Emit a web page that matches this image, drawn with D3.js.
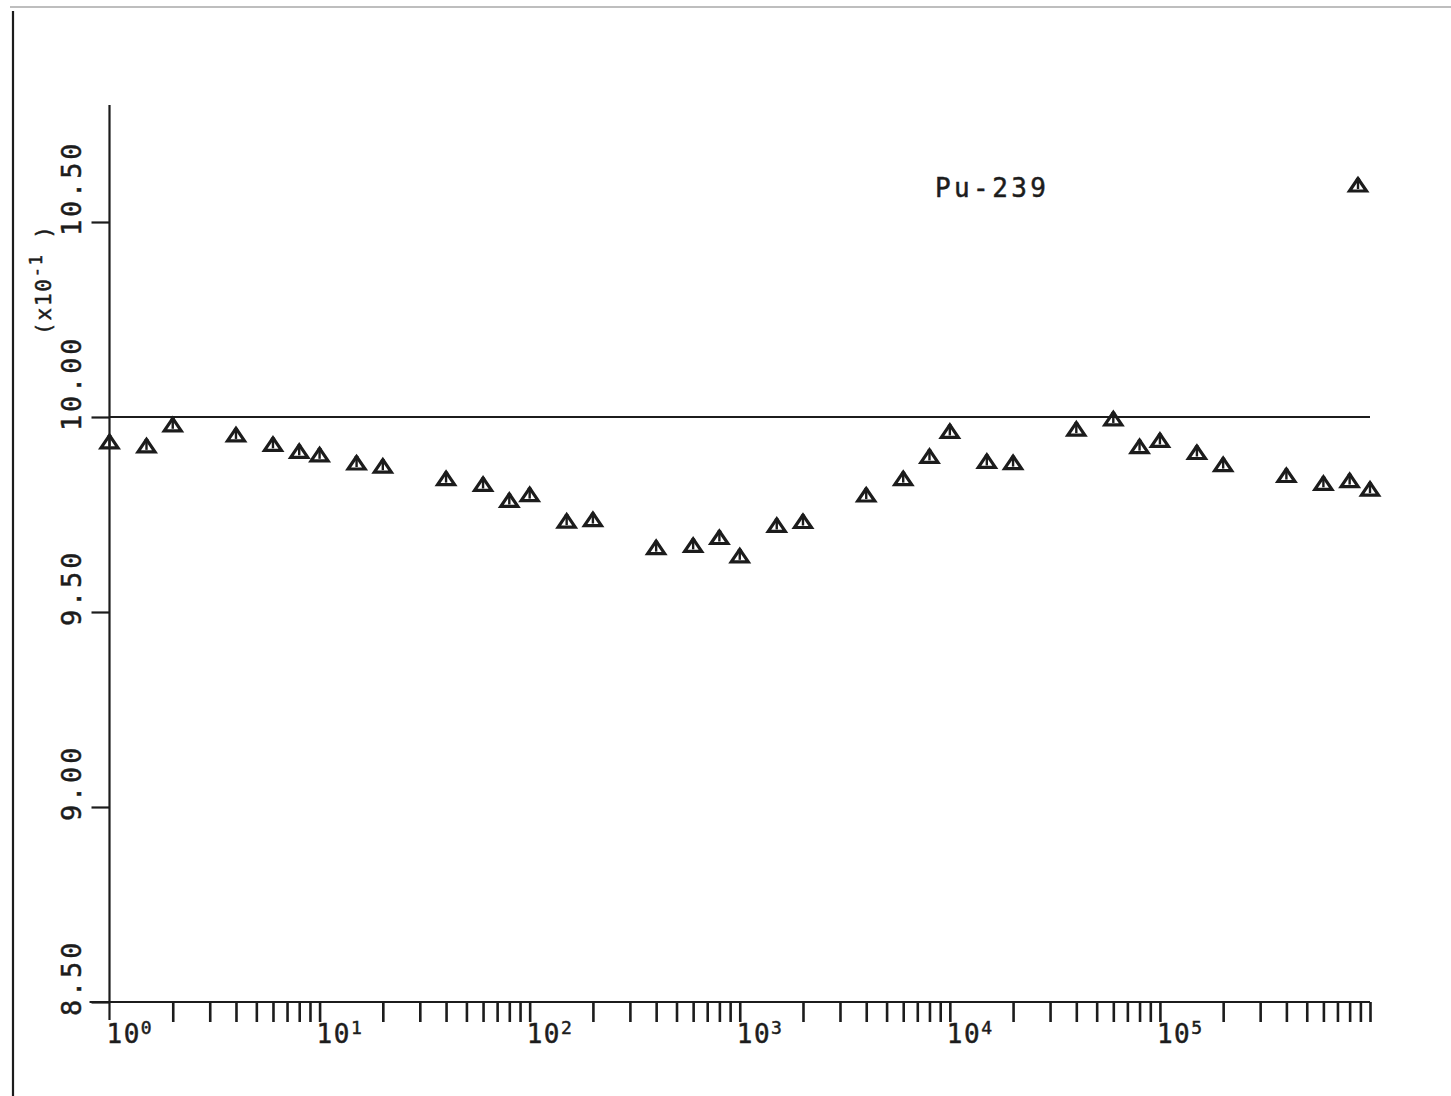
<!DOCTYPE html>
<html>
<head>
<meta charset="utf-8">
<script src="https://cdn.jsdelivr.net/npm/d3@7"></script>
<style>
  html, body { margin: 0; padding: 0; background: #fff; }
  svg { display: block; }
  text { font-family: "DejaVu Sans Mono", monospace; fill: #1c1c1c; stroke: #1c1c1c; stroke-width: 0.5; }
</style>
</head>
<body>
<script>
// Energy points (eV) and measured/calculated ratio for Pu-239
const energies = [1, 1.5, 2, 4, 6, 8, 10, 15, 20, 40, 60, 80, 100, 150, 200,
  400, 600, 800, 1000, 1500, 2000, 4000, 6000, 8000, 1e4, 1.5e4, 2e4,
  4e4, 6e4, 8e4, 1e5, 1.5e5, 2e5, 4e5, 6e5, 8e5, 1e6];
const ratios = [0.9936, 0.9926, 0.9980, 0.9954, 0.9930, 0.9912, 0.9903, 0.9882, 0.9874,
  0.9842, 0.9827, 0.9786, 0.9801, 0.9733, 0.9737, 0.9665, 0.9671, 0.9691, 0.9644,
  0.9722, 0.9732, 0.9800, 0.9842, 0.9899, 0.9963, 0.9886, 0.9883, 0.9969, 0.9995,
  0.9924, 0.9940, 0.9909, 0.9878, 0.9850, 0.9830, 0.9837, 0.9815];

const yTickValues = [0.85, 0.90, 0.95, 1.00, 1.05];
const yTickLabels = ["8.50", "9.00", "9.50", "10.00", "10.50"];
const decadeExponents = [0, 1, 2, 3, 4, 5];
const seriesName = "Pu-239";
const referenceValue = 1.0;

const W = 1451, H = 1096;
const ink = "#1c1c1c";

const svg = d3.select("body").append("svg")
  .attr("width", W).attr("height", H);

// outer frame of the plot sheet
svg.append("line").attr("x1", 10).attr("x2", W).attr("y1", 7).attr("y2", 7)
  .attr("stroke", "#a8a8a8").attr("stroke-width", 1.6);
svg.append("line").attr("x1", 13).attr("x2", 13).attr("y1", 11).attr("y2", H)
  .attr("stroke", ink).attr("stroke-width", 2.2);

const x = d3.scaleLog().domain([1, 1e6]).range([109.5, 1370]);
const y = d3.scaleLinear().domain([0.85, 1.08]).range([1002, 105]);

const x0 = x.range()[0], x1 = x.range()[1];
const yBottom = y.range()[0], yTop = y.range()[1];

// ticks at 2..10 of every decade
const xTickValues = [];
decadeExponents.forEach(k => {
  for (let m = 2; m <= 10; m++) xTickValues.push(m * Math.pow(10, k));
});

const xAxis = svg.append("g")
  .attr("transform", `translate(0,${yBottom})`)
  .call(d3.axisBottom(x).tickValues(xTickValues).tickSize(20).tickFormat(""));
xAxis.select(".domain").remove();
xAxis.selectAll(".tick line").attr("stroke", ink).attr("stroke-width", 2.6);

const yAxis = svg.append("g")
  .attr("transform", `translate(${x0},0)`)
  .call(d3.axisLeft(y).tickValues(yTickValues).tickSize(18).tickFormat(""));
yAxis.select(".domain").remove();
yAxis.selectAll(".tick line").attr("stroke", ink).attr("stroke-width", 2.2);

// axis lines
svg.append("line").attr("x1", x0 - 20).attr("x2", x1).attr("y1", yBottom).attr("y2", yBottom)
  .attr("stroke", ink).attr("stroke-width", 2.2);
svg.append("line").attr("x1", x0).attr("x2", x0).attr("y1", yTop).attr("y2", yBottom + 18)
  .attr("stroke", ink).attr("stroke-width", 2.2);

// reference line at ratio = 1
svg.append("line").attr("x1", x0).attr("x2", x1)
  .attr("y1", y(referenceValue)).attr("y2", y(referenceValue))
  .attr("stroke", ink).attr("stroke-width", 2.2);

// y tick labels, rotated, reading upward from the tick
yTickValues.forEach((v, i) => {
  svg.append("text")
    .attr("transform", `translate(81,${y(v) + 14}) rotate(-90)`)
    .attr("text-anchor", "start")
    .attr("font-size", 27)
    .attr("letter-spacing", 2.8)
    .text(yTickLabels[i]);
});

// y scale factor
const fac = svg.append("text")
  .attr("transform", `translate(51,335) rotate(-90)`)
  .attr("text-anchor", "start")
  .attr("font-size", 21)
  .attr("letter-spacing", 1.8);
fac.append("tspan").text("(x10");
fac.append("tspan").attr("font-size", 17).attr("dy", -9).text("-1");
fac.append("tspan").attr("dy", 9).text(" )");

// decade labels on the energy axis
decadeExponents.forEach(k => {
  const t = svg.append("text")
    .attr("x", x(Math.pow(10, k)) - 3)
    .attr("y", 1043)
    .attr("font-size", 26)
    .attr("letter-spacing", 1.5);
  t.append("tspan").text("10");
  t.append("tspan").attr("font-size", 18).attr("dy", -9).text(String(k));
});

// series label
svg.append("text")
  .attr("x", 935).attr("y", 197)
  .attr("font-size", 26)
  .attr("letter-spacing", 3.4)
  .text(seriesName);

// triangle marker with inner stem
function marker(g) {
  g.append("path")
    .attr("d", "M0,-6.5 L-8.5,6 L8.5,6 Z")
    .attr("fill", "none").attr("stroke", ink).attr("stroke-width", 3.2)
    .attr("stroke-linejoin", "miter");
  g.append("line").attr("x1", 0).attr("x2", 0).attr("y1", -6).attr("y2", 4)
    .attr("stroke", ink).attr("stroke-width", 2.4);
  g.append("circle").attr("cx", 0).attr("cy", -5).attr("r", 2.4).attr("fill", ink);
}

const pts = energies.map((e, i) => ({ e, r: ratios[i] }));
svg.append("g").selectAll("g.pt")
  .data(pts)
  .join("g")
  .attr("class", "pt")
  .attr("transform", d => `translate(${x(d.e)},${y(d.r)})`)
  .each(function () { marker(d3.select(this)); });

// legend symbol
marker(svg.append("g").attr("transform", "translate(1358,185)"));
</script>
</body>
</html>
